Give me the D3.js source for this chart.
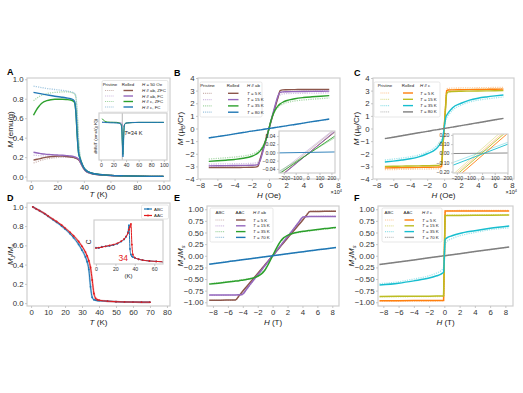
<!DOCTYPE html>
<html>
<head>
<meta charset="utf-8">
<script src="https://cdn.jsdelivr.net/npm/d3@7"></script>
<style>
  body { margin: 0; background: #fff; }
  text { font-family: "Liberation Sans", Arial, sans-serif; }
</style>
</head>
<body>
<svg id="fig" width="523" height="393"></svg>
<script>
// ---- panel A : M vs T at H = 50 Oe ----
var tempA = [2,4,6,8,10,12,15,18,21,24,27,30,32,33,34,35,36,37,38,40,42,45,50,55,60,70,80,90,100];
var rolledCFc   = [0.865,0.86,0.855,0.85,0.845,0.84,0.833,0.826,0.82,0.815,0.808,0.8,0.79,0.77,0.66,0.42,0.24,0.19,0.15,0.09,0.06,0.04,0.025,0.018,0.013,0.008,0.005,0.003,0.002];
var rolledCZfc  = [0.63,0.68,0.72,0.75,0.77,0.78,0.79,0.795,0.795,0.795,0.792,0.787,0.775,0.76,0.65,0.41,0.24,0.19,0.15,0.09,0.06,0.04,0.025,0.018,0.013,0.008,0.005,0.003,0.002];
var rolledAbFc  = [0.25,0.245,0.24,0.235,0.232,0.229,0.226,0.223,0.221,0.219,0.216,0.212,0.207,0.203,0.198,0.19,0.18,0.16,0.13,0.08,0.05,0.035,0.022,0.016,0.012,0.008,0.005,0.003,0.002];
var rolledAbZfc = [0.17,0.176,0.182,0.189,0.195,0.2,0.205,0.209,0.211,0.21,0.207,0.202,0.197,0.193,0.188,0.182,0.172,0.155,0.13,0.08,0.05,0.035,0.022,0.016,0.012,0.008,0.005,0.003,0.002];
var pristineCFc   = [0.93,0.925,0.92,0.915,0.91,0.905,0.9,0.895,0.89,0.885,0.88,0.872,0.863,0.855,0.82,0.65,0.38,0.22,0.16,0.09,0.06,0.04,0.025,0.018,0.013,0.008,0.005,0.003,0.002];
var pristineCZfc  = [0.78,0.8,0.82,0.835,0.845,0.852,0.86,0.865,0.868,0.87,0.87,0.866,0.857,0.848,0.81,0.64,0.37,0.22,0.16,0.09,0.06,0.04,0.025,0.018,0.013,0.008,0.005,0.003,0.002];
var pristineAbFc  = [0.22,0.218,0.216,0.214,0.212,0.21,0.208,0.206,0.205,0.204,0.203,0.201,0.199,0.197,0.194,0.19,0.18,0.16,0.13,0.08,0.05,0.035,0.022,0.016,0.012,0.008,0.005,0.003,0.002];
var pristineAbZfc = [0.14,0.15,0.16,0.168,0.176,0.182,0.189,0.194,0.198,0.2,0.2,0.198,0.195,0.192,0.188,0.182,0.172,0.155,0.13,0.08,0.05,0.035,0.022,0.016,0.012,0.008,0.005,0.003,0.002];
var ticksAx = [0,20,40,60,80,100];
var ticksAy = [0,0.2,0.4,0.6,0.8,1.0];

// inset A : dM/dT
var tempInsetA = [2,4,6,8,10,15,20,25,30,32,33,34,35,36,37,38,40,45,50,60,70,80,90,100];
var dmdtCFc   = [0,0,0,-0.005,-0.005,-0.01,-0.01,-0.015,-0.03,-0.06,-0.15,-0.55,-0.92,-0.45,-0.12,-0.04,-0.02,-0.01,-0.005,0,0,0,0,0];
var dmdtCZfc  = [0.1,0.06,0.035,0.02,0.01,0.005,0.003,0,-0.02,-0.05,-0.13,-0.5,-0.85,-0.42,-0.11,-0.04,-0.02,-0.01,-0.005,0,0,0,0,0];
var dmdtPrisC = [0.02,0.01,0.005,0,0,-0.005,-0.01,-0.015,-0.02,-0.03,-0.06,-0.2,-0.55,-0.6,-0.2,-0.05,-0.02,-0.01,-0.005,0,0,0,0,0];
var dmdtAbFc  = [0,0,0,0,0,0,0,0,-0.005,-0.01,-0.02,-0.05,-0.1,-0.12,-0.08,-0.04,-0.02,-0.01,0,0,0,0,0,0];
var tcInset = 34;
var ticksInsetAx = [0,20,40,60,80,100];

// ---- panel B : M vs H, H // ab ----
var fieldB = [-7,-6,-5,-4,-3,-2,-1.6,-1.3,-1,-0.7,-0.4,-0.2,0,0.2,0.4,0.7,1,1.3,1.6,2,3,4,5,6,7];
var rolledB5K  = [-3.1,-3.1,-3.09,-3.09,-3.08,-3.07,-3.06,-3.0,-2.35,-1.65,-0.95,-0.48,0,0.48,0.95,1.65,2.35,3.0,3.06,3.07,3.08,3.09,3.09,3.1,3.1];
var rolledB15K = [-2.96,-2.95,-2.94,-2.93,-2.92,-2.91,-2.9,-2.86,-2.5,-1.8,-1.05,-0.53,0,0.53,1.05,1.8,2.5,2.86,2.9,2.91,2.92,2.93,2.94,2.95,2.96];
var rolledB35K = [-2.6,-2.56,-2.51,-2.45,-2.36,-2.2,-2.08,-1.95,-1.75,-1.45,-0.98,-0.55,0,0.55,0.98,1.45,1.75,1.95,2.08,2.2,2.36,2.45,2.51,2.56,2.6];
var rolledB80K = [-0.75,-0.64,-0.54,-0.43,-0.32,-0.21,-0.17,-0.14,-0.11,-0.075,-0.043,-0.021,0,0.021,0.043,0.075,0.11,0.14,0.17,0.21,0.32,0.43,0.54,0.64,0.75];
var pristineB5K  = [-2.98,-2.97,-2.96,-2.95,-2.94,-2.92,-2.89,-2.8,-2.4,-1.7,-0.98,-0.5,0,0.5,0.98,1.7,2.4,2.8,2.89,2.92,2.94,2.95,2.96,2.97,2.98];
var pristineB15K = [-2.82,-2.81,-2.8,-2.79,-2.78,-2.76,-2.73,-2.66,-2.35,-1.7,-1.0,-0.5,0,0.5,1.0,1.7,2.35,2.66,2.73,2.76,2.78,2.79,2.8,2.81,2.82];
var pristineB35K = [-2.42,-2.37,-2.32,-2.26,-2.18,-2.04,-1.93,-1.82,-1.65,-1.38,-0.95,-0.53,0,0.53,0.95,1.38,1.65,1.82,1.93,2.04,2.18,2.26,2.32,2.37,2.42];
var pristineB80K = [-0.73,-0.63,-0.53,-0.42,-0.31,-0.21,-0.17,-0.14,-0.1,-0.073,-0.042,-0.021,0,0.021,0.042,0.073,0.1,0.14,0.17,0.21,0.31,0.42,0.53,0.63,0.73];
var ticksHx = [-8,-6,-4,-2,0,2,4,6,8];
var ticksBy = [-4,-3,-2,-1,0,1,2,3,4];

// inset B (Oe)
var fieldInsetB = [-240,230];
var insetB5K  = [-0.06,0.05];
var insetB15K = [-0.062,0.052];
var insetB35K = [-0.052,0.04];
var insetB80K = [-0.0012,0.0011];
var insetPrisB5K  = [-0.055,0.056];
var insetPrisB15K = [-0.05,0.058];
var insetPrisB35K = [-0.046,0.036];
var ticksInsetHx = [-200,-100,0,100,200];
var ticksInsetBy = [-0.04,-0.02,0,0.02,0.04];

// ---- panel C : M vs H, H // c ----
var fieldC = [-7,-6,-5,-4,-3,-2,-1,-0.5,-0.3,-0.2,-0.1,0,0.1,0.2,0.3,0.5,1,2,3,4,5,6,7];
var rolledC5K  = [-3.12,-3.11,-3.1,-3.09,-3.08,-3.07,-3.06,-3.05,-3.0,-2.1,-1.05,0,1.05,2.1,3.0,3.05,3.06,3.07,3.08,3.09,3.1,3.11,3.12];
var rolledC15K = [-3.0,-2.99,-2.98,-2.97,-2.96,-2.95,-2.93,-2.9,-2.75,-1.9,-0.95,0,0.95,1.9,2.75,2.9,2.93,2.95,2.96,2.97,2.98,2.99,3.0];
var rolledC35K = [-2.65,-2.58,-2.5,-2.4,-2.25,-2.0,-1.65,-1.25,-1.05,-0.9,-0.5,0,0.5,0.9,1.05,1.25,1.65,2.0,2.25,2.4,2.5,2.58,2.65];
var rolledC80K = [-0.8,-0.69,-0.57,-0.46,-0.34,-0.23,-0.11,-0.06,-0.034,-0.023,-0.011,0,0.011,0.023,0.034,0.06,0.11,0.23,0.34,0.46,0.57,0.69,0.8];
var pristineC5K  = [-3.26,-3.25,-3.24,-3.23,-3.22,-3.21,-3.2,-3.18,-3.1,-2.2,-1.1,0,1.1,2.2,3.1,3.18,3.2,3.21,3.22,3.23,3.24,3.25,3.26];
var pristineC15K = [-3.15,-3.14,-3.13,-3.12,-3.11,-3.1,-3.08,-3.05,-2.9,-2.0,-1.0,0,1.0,2.0,2.9,3.05,3.08,3.1,3.11,3.12,3.13,3.14,3.15];
var pristineC35K = [-2.5,-2.42,-2.34,-2.24,-2.1,-1.85,-1.45,-1.05,-0.85,-0.7,-0.38,0,0.38,0.7,0.85,1.05,1.45,1.85,2.1,2.24,2.34,2.42,2.5];
var pristineC80K = [-0.79,-0.68,-0.56,-0.45,-0.34,-0.22,-0.11,-0.056,-0.034,-0.022,-0.011,0,0.011,0.022,0.034,0.056,0.11,0.22,0.34,0.45,0.56,0.68,0.79];

// inset C (Oe)
var fieldInsetC = [-230,205];
var insetC5K  = [-0.3,0.22];
var insetC15K = [-0.27,0.25];
var insetC35K = [-0.13,0.1];
var insetC80K = [-0.003,0.003];
var insetPrisC5K  = [-0.25,0.27];
var insetPrisC15K = [-0.23,0.3];
var insetPrisC35K = [-0.1,0.12];
var ticksInsetCy = [-0.2,-0.1,0,0.1,0.2];

// ---- panel D : simulated M vs T ----
var tempD = [1,3,5,8,10,13,15,18,20,23,25,28,30,32,33,34,35,36,37,38,39,40,45,50,55,60,65,70];
var magAAC = [1.0,0.98,0.96,0.93,0.905,0.87,0.848,0.81,0.78,0.735,0.7,0.64,0.59,0.53,0.49,0.44,0.37,0.24,0.1,0.05,0.035,0.03,0.02,0.015,0.012,0.011,0.01,0.01];
var magABC = [1.0,0.98,0.96,0.928,0.902,0.865,0.84,0.8,0.77,0.72,0.68,0.61,0.55,0.48,0.43,0.35,0.17,0.06,0.035,0.03,0.027,0.025,0.02,0.015,0.012,0.011,0.01,0.01];
var ticksDx = [0,10,20,30,40,50,60,70,80];
var ticksDy = [0,0.2,0.4,0.6,0.8,1.0];

// inset D : specific heat
var tempInsetD = [0,3,6,10,14,18,22,26,29,31,33,34,35,36,37,38,40,44,48,55,62,69];
var heatABC = [0.38,0.37,0.4,0.41,0.42,0.44,0.47,0.52,0.57,0.63,0.74,0.9,0.35,0.22,0.18,0.16,0.14,0.11,0.09,0.07,0.06,0.05];
var heatAAC = [0.37,0.38,0.39,0.41,0.43,0.45,0.48,0.53,0.58,0.64,0.72,0.8,0.86,0.93,0.45,0.22,0.15,0.11,0.09,0.07,0.06,0.05];
var ticksInsetDx = [0,20,40,60];

// ---- panel E : simulated M vs H, H // ab ----
var fieldE = [-8.5,-7,-6,-5,-4.5,-4.1,-3.5,-3,-2,-1.5,-1,-0.5,0,0.5,1,1.5,2,3,3.5,4.1,4.5,5,6,7,8.5];
var aacE5K  = [-0.955,-0.955,-0.953,-0.95,-0.86,-0.78,-0.665,-0.57,-0.38,-0.285,-0.19,-0.095,0,0.095,0.19,0.285,0.38,0.57,0.665,0.78,0.86,0.95,0.953,0.955,0.955];
var aacE15K = [-0.845,-0.845,-0.843,-0.842,-0.84,-0.835,-0.72,-0.615,-0.41,-0.31,-0.205,-0.1,0,0.1,0.205,0.31,0.41,0.615,0.72,0.835,0.84,0.842,0.843,0.845,0.845];
var aacE35K = [-0.61,-0.585,-0.565,-0.545,-0.535,-0.525,-0.51,-0.495,-0.44,-0.39,-0.3,-0.16,0,0.16,0.3,0.39,0.44,0.495,0.51,0.525,0.535,0.545,0.565,0.585,0.61];
var aacE70K = [-0.18,-0.148,-0.127,-0.106,-0.095,-0.087,-0.074,-0.064,-0.042,-0.032,-0.021,-0.011,0,0.011,0.021,0.032,0.042,0.064,0.074,0.087,0.095,0.106,0.127,0.148,0.18];
var abcE5K  = [-0.96,-0.96,-0.958,-0.955,-0.87,-0.79,-0.675,-0.58,-0.385,-0.29,-0.195,-0.097,0,0.097,0.195,0.29,0.385,0.58,0.675,0.79,0.87,0.955,0.958,0.96,0.96];
var abcE15K = [-0.85,-0.85,-0.848,-0.846,-0.845,-0.84,-0.73,-0.625,-0.42,-0.315,-0.21,-0.105,0,0.105,0.21,0.315,0.42,0.625,0.73,0.84,0.845,0.846,0.848,0.85,0.85];
var abcE35K = [-0.6,-0.575,-0.555,-0.535,-0.525,-0.515,-0.5,-0.485,-0.43,-0.37,-0.28,-0.15,0,0.15,0.28,0.37,0.43,0.485,0.5,0.515,0.525,0.535,0.555,0.575,0.6];
var abcE70K = [-0.178,-0.146,-0.125,-0.105,-0.094,-0.086,-0.073,-0.063,-0.042,-0.031,-0.021,-0.01,0,0.01,0.021,0.031,0.042,0.063,0.073,0.086,0.094,0.105,0.125,0.146,0.178];
var ticksEy = [-1,-0.75,-0.5,-0.25,0,0.25,0.5,0.75,1];

// ---- panel F : simulated M vs H, H // c ----
var fieldF = [-8.5,-6,-4,-2,-1,-0.5,-0.3,-0.1,0,0.1,0.3,0.5,1,2,4,6,8.5];
var aacF5K  = [-0.965,-0.965,-0.964,-0.963,-0.962,-0.961,-0.96,-0.96,0,0.96,0.96,0.961,0.962,0.963,0.964,0.965,0.965];
var aacF15K = [-0.875,-0.872,-0.87,-0.868,-0.866,-0.865,-0.864,-0.863,0,0.863,0.864,0.865,0.866,0.868,0.87,0.872,0.875];
var aacF35K = [-0.63,-0.59,-0.54,-0.48,-0.43,-0.4,-0.38,-0.35,0,0.35,0.38,0.4,0.43,0.48,0.54,0.59,0.64];
var aacF70K = [-0.19,-0.134,-0.09,-0.045,-0.022,-0.011,-0.007,-0.002,0,0.002,0.007,0.011,0.022,0.045,0.09,0.134,0.19];
var abcF5K  = [-0.975,-0.975,-0.974,-0.973,-0.972,-0.971,-0.97,-0.97,0,0.97,0.97,0.971,0.972,0.973,0.974,0.975,0.975];
var abcF15K = [-0.885,-0.882,-0.88,-0.878,-0.876,-0.875,-0.874,-0.873,0,0.873,0.874,0.875,0.876,0.878,0.88,0.882,0.885];
var abcF35K = [-0.6,-0.56,-0.5,-0.43,-0.37,-0.33,-0.3,-0.25,0,0.25,0.3,0.33,0.37,0.43,0.5,0.56,0.6];
var abcF70K = [-0.188,-0.132,-0.089,-0.044,-0.022,-0.011,-0.007,-0.002,0,0.002,0.007,0.011,0.022,0.044,0.089,0.132,0.188];

// colours (matplotlib tab10)
var cBlue = '#1f77b4', cOrange = '#ff7f0e', cGreen = '#2ca02c', cPurple = '#9467bd',
    cBrown = '#8c564b', cGray = '#7f7f7f', cOlive = '#bcbd22', cCyan = '#17becf', cRed = '#e31a1c';

var svg = d3.select('#fig');
svg.append('rect').attr('width', 523).attr('height', 393).attr('fill', '#fff');

var clipCount = 0;

// text with italic / sub / sup parts
function rich(t, parts, fs) {
  var shift = 0;
  parts.forEach(function (p) {
    var s = t.append('tspan').text(p[0]);
    var target = 0;
    if (p[1] === 'i') s.attr('font-style', 'italic');
    if (p[1] === 'sub' || p[1] === 'isub') { target = 0.28 * fs; s.attr('font-size', fs * 0.7); }
    if (p[1] === 'sup') { target = -0.42 * fs; s.attr('font-size', fs * 0.7); }
    if (p[1] === 'isub') s.attr('font-style', 'italic');
    if (target !== shift) { s.attr('dy', target - shift); shift = target; }
  });
}

function makeAxes(box, xDomain, yDomain, xTicks, yTicks, xFmt, yFmt, fs) {
  var g = svg.append('g');
  var x = d3.scaleLinear().domain(xDomain).range([box[0], box[2]]);
  var y = d3.scaleLinear().domain(yDomain).range([box[3], box[1]]);
  var id = 'clip' + (clipCount++);
  svg.append('clipPath').attr('id', id).append('rect')
    .attr('x', box[0]).attr('y', box[1]).attr('width', box[2] - box[0]).attr('height', box[3] - box[1]);

  g.append('rect')
    .attr('x', box[0]).attr('y', box[1]).attr('width', box[2] - box[0]).attr('height', box[3] - box[1])
    .attr('fill', '#fff');
  var plot = g.append('g').attr('clip-path', 'url(#' + id + ')');
  g.append('rect')
    .attr('x', box[0]).attr('y', box[1]).attr('width', box[2] - box[0]).attr('height', box[3] - box[1])
    .attr('fill', 'none').attr('stroke', '#cfcfcf').attr('stroke-width', 1.2);

  var xg = g.append('g').attr('transform', 'translate(0,' + box[3] + ')')
    .call(d3.axisBottom(x).tickValues(xTicks).tickFormat(xFmt).tickSize(2).tickPadding(1.5));
  styleAxis(xg, fs);
  if (yTicks) {
    var yg = g.append('g').attr('transform', 'translate(' + box[0] + ',0)')
      .call(d3.axisLeft(y).tickValues(yTicks).tickFormat(yFmt).tickSize(2).tickPadding(1.5));
    styleAxis(yg, fs);
  }
  return { g: g, x: x, y: y, plot: plot, box: box };
}

function styleAxis(sel, fs) {
  sel.select('.domain').remove();
  sel.selectAll('.tick line').attr('stroke', '#bbb').attr('stroke-width', 0.8);
  sel.selectAll('.tick text').attr('font-size', fs).attr('fill', '#333')
    .attr('font-family', '"Liberation Sans", Arial, sans-serif');
}

function drawSeries(ax, xs, ys, color, opts) {
  opts = opts || {};
  var line = d3.line()
    .x(function (d) { return ax.x(d[0]); })
    .y(function (d) { return ax.y(d[1]); })
    .curve(opts.curve || d3.curveMonotoneX);
  return ax.plot.append('path')
    .datum(d3.zip(xs, ys))
    .attr('d', line)
    .attr('fill', 'none')
    .attr('stroke', color)
    .attr('stroke-width', opts.w || 1.4)
    .attr('stroke-dasharray', opts.dash || null)
    .attr('stroke-opacity', opts.op || 1);
}

function pale(ax, xs, ys, color) {
  drawSeries(ax, xs, ys, color, { w: 1.3, dash: '1.2,1.1', op: 0.4 });
}

function drawDots(ax, xs, ys, color) {
  ax.plot.selectAll(null).data(d3.zip(xs, ys)).enter().append('circle')
    .attr('cx', function (d) { return ax.x(d[0]); })
    .attr('cy', function (d) { return ax.y(d[1]); })
    .attr('r', 0.9).attr('fill', color);
}

function label(x, y, parts, fs, opts) {
  opts = opts || {};
  var t = svg.append('text')
    .attr('x', x).attr('y', y)
    .attr('font-size', fs)
    .attr('fill', opts.fill || '#222')
    .attr('font-weight', opts.bold ? 'bold' : null)
    .attr('text-anchor', opts.anchor || 'middle');
  if (opts.rotate) t.attr('transform', 'rotate(-90,' + x + ',' + y + ')');
  rich(t, parts, fs);
  return t;
}

function legendTable(spec) {
  var g = svg.append('g');
  g.append('rect')
    .attr('x', spec.box[0]).attr('y', spec.box[1])
    .attr('width', spec.box[2] - spec.box[0]).attr('height', spec.box[3] - spec.box[1])
    .attr('rx', 1.5).attr('fill', '#fff').attr('fill-opacity', 0.85)
    .attr('stroke', '#d6d6d6').attr('stroke-width', 0.6);
  spec.heads.forEach(function (h) {
    var t = g.append('text').attr('x', h[0]).attr('y', spec.headY)
      .attr('text-anchor', h[1]).attr('font-size', spec.fs).attr('fill', '#222');
    rich(t, h[2], spec.fs);
  });
  spec.rows.forEach(function (r, i) {
    var yy = spec.rowY[i];
    g.append('line').attr('x1', spec.segP[0]).attr('x2', spec.segP[1]).attr('y1', yy).attr('y2', yy)
      .attr('stroke', r[1]).attr('stroke-width', 1.2).attr('stroke-dasharray', '1,0.9').attr('stroke-opacity', 0.45);
    g.append('line').attr('x1', spec.segR[0]).attr('x2', spec.segR[1]).attr('y1', yy).attr('y2', yy)
      .attr('stroke', r[1]).attr('stroke-width', 1.4);
    var t = g.append('text').attr('x', spec.labelX).attr('y', yy + spec.fs * 0.35)
      .attr('font-size', spec.fs).attr('fill', '#222');
    rich(t, r[0], spec.fs);
  });
}

var fmtInt = d3.format('d');
var fmt1 = d3.format('.1f');
var fmt2 = d3.format('.2f');
var tickFs = 7.8, axisFs = 8, insetFs = 5.2, legFs = 4.4;

// ================= A =================
var axA = makeAxes([27, 78, 170, 181], [-2.9, 104.9], [-0.045, 1.013], ticksAx, ticksAy, fmtInt, fmt1, tickFs);
pale(axA, tempA, pristineAbZfc, cBrown);
pale(axA, tempA, pristineAbFc, cPurple);
pale(axA, tempA, pristineCZfc, cGreen);
pale(axA, tempA, pristineCFc, cBlue);
drawSeries(axA, tempA, rolledAbZfc, cBrown);
drawSeries(axA, tempA, rolledAbFc, cPurple);
drawSeries(axA, tempA, rolledCZfc, cGreen);
drawSeries(axA, tempA, rolledCFc, cBlue);
label(13, 129.5, [['M', 'i'], [' (emu/g)']], axisFs, { rotate: true });
label(98.5, 197, [['T', 'i'], [' (K)']], axisFs);
label(7, 74.5, [['A']], 9, { bold: true, anchor: 'start', fill: '#000' });

legendTable({
  box: [102, 80.5, 168, 112], fs: legFs, headY: 85.5,
  heads: [[110, 'middle', [['Pristine']]], [128, 'middle', [['Rolled']]], [142, 'start', [['H', 'i'], [' = 50 Oe']]]],
  rowY: [90.5, 96, 101.5, 107], segP: [105, 114], segR: [123.5, 133], labelX: 142,
  rows: [
    [[['H', 'i'], [' // ab, ZFC']], cBrown],
    [[['H', 'i'], [' // ab, FC']], cPurple],
    [[['H', 'i'], [' // c, ZFC']], cGreen],
    [[['H', 'i'], [' // c, FC']], cBlue]
  ]
});

// inset A
var axAi = makeAxes([99, 113, 167, 160], [-3, 105], [-1, 0.25], ticksInsetAx, null, fmtInt, null, insetFs);
axAi.plot.append('line')
  .attr('x1', axAi.x(tcInset)).attr('x2', axAi.x(tcInset))
  .attr('y1', axAi.box[1]).attr('y2', axAi.box[3])
  .attr('stroke', '#888').attr('stroke-width', 0.6);
drawSeries(axAi, tempInsetA, dmdtPrisC, cBlue, { w: 1, op: 0.35 });
drawSeries(axAi, tempInsetA, dmdtAbFc, cPurple, { w: 1, op: 0.6 });
drawSeries(axAi, tempInsetA, dmdtCZfc, cGreen, { w: 1 });
drawSeries(axAi, tempInsetA, dmdtCFc, cBlue, { w: 1 });
label(axAi.x(37), axAi.y(-0.33), [['T', 'i'], ['=34 K']], 5.6, { anchor: 'start' });
label(96.5, 136.5, [['dM/dT (emu/(g K))']], 4.3, { rotate: true });

// ================= B =================
var axB = makeAxes([198, 78, 340, 179], [-8.25, 8.25], [-4, 4], ticksHx, ticksBy, fmtInt, fmtInt, tickFs);
pale(axB, fieldB, pristineB5K, cBrown);
pale(axB, fieldB, pristineB15K, cPurple);
pale(axB, fieldB, pristineB35K, cGreen);
pale(axB, fieldB, pristineB80K, cBlue);
drawSeries(axB, fieldB, rolledB5K, cBrown);
drawSeries(axB, fieldB, rolledB15K, cPurple);
drawSeries(axB, fieldB, rolledB35K, cGreen);
drawSeries(axB, fieldB, rolledB80K, cBlue);
label(183, 128.5, [['M', 'i'], [' (\u03bc'], ['B', 'sub'], ['/Cr)']], axisFs, { rotate: true });
label(269, 197.5, [['H', 'i'], [' (Oe)']], axisFs);
label(342, 194, [['\u00d710'], ['4', 'sup']], 5.5, { anchor: 'end' });
label(174, 76, [['B']], 9, { bold: true, anchor: 'start', fill: '#000' });

legendTable({
  box: [200, 82, 262, 117], fs: legFs, headY: 87,
  heads: [[207.5, 'middle', [['Pristine']]], [233, 'middle', [['Rolled']]], [247, 'start', [['H', 'i'], [' // ab']]]],
  rowY: [93.3, 99.6, 105.9, 112.2], segP: [203, 212], segR: [228, 238.5], labelX: 247,
  rows: [
    [[['T', 'i'], [' = 5 K']], cBrown],
    [[['T', 'i'], [' = 15 K']], cPurple],
    [[['T', 'i'], [' = 35 K']], cGreen],
    [[['T', 'i'], [' = 80 K']], cBlue]
  ]
});

var axBi = makeAxes([279, 131, 335, 173], [-240, 230], [-0.05, 0.052], ticksInsetHx, ticksInsetBy, fmtInt, fmt2, insetFs);
drawSeries(axBi, fieldInsetB, insetPrisB5K, cBrown, { w: 0.9, op: 0.4 });
drawSeries(axBi, fieldInsetB, insetPrisB15K, cPurple, { w: 0.9, op: 0.4 });
drawSeries(axBi, fieldInsetB, insetPrisB35K, cGreen, { w: 0.9, op: 0.4 });
drawSeries(axBi, fieldInsetB, insetB5K, cBrown, { w: 0.9 });
drawSeries(axBi, fieldInsetB, insetB15K, cPurple, { w: 0.9 });
drawSeries(axBi, fieldInsetB, insetB35K, cGreen, { w: 0.9 });
drawSeries(axBi, fieldInsetB, insetB80K, cBlue, { w: 0.9 });

// ================= C =================
var axC = makeAxes([373, 78, 514, 179], [-8.4, 8.25], [-4, 4], ticksHx, ticksBy, fmtInt, fmtInt, tickFs);
pale(axC, fieldC, pristineC5K, cOrange);
pale(axC, fieldC, pristineC15K, cOlive);
pale(axC, fieldC, pristineC35K, cCyan);
pale(axC, fieldC, pristineC80K, cGray);
drawSeries(axC, fieldC, rolledC5K, cOrange);
drawSeries(axC, fieldC, rolledC15K, cOlive);
drawSeries(axC, fieldC, rolledC35K, cCyan);
drawSeries(axC, fieldC, rolledC80K, cGray);
label(359, 128.5, [['M', 'i'], [' (\u03bc'], ['B', 'sub'], ['/Cr)']], axisFs, { rotate: true });
label(443.5, 197.5, [['H', 'i'], [' (Oe)']], axisFs);
label(517, 194, [['\u00d710'], ['4', 'sup']], 5.5, { anchor: 'end' });
label(354, 76, [['C']], 9, { bold: true, anchor: 'start', fill: '#000' });

legendTable({
  box: [374, 82, 440, 117], fs: legFs, headY: 87,
  heads: [[385, 'middle', [['Pristine']]], [408, 'middle', [['Rolled']]], [420, 'start', [['H', 'i'], [' // c']]]],
  rowY: [93, 99.3, 105.6, 111.9], segP: [380.5, 389.5], segR: [403, 413], labelX: 420,
  rows: [
    [[['T', 'i'], [' = 5 K']], cOrange],
    [[['T', 'i'], [' = 15 K']], cOlive],
    [[['T', 'i'], [' = 35 K']], cCyan],
    [[['T', 'i'], [' = 80 K']], cGray]
  ]
});

var axCi = makeAxes([453, 134, 508, 173], [-230, 205], [-0.215, 0.21], ticksInsetHx, ticksInsetCy, fmtInt, fmt2, insetFs);
drawSeries(axCi, fieldInsetC, insetC80K, cGray, { w: 0.9 });
drawSeries(axCi, fieldInsetC, insetPrisC5K, cOrange, { w: 0.9, op: 0.4 });
drawSeries(axCi, fieldInsetC, insetPrisC15K, cOlive, { w: 0.9, op: 0.4 });
drawSeries(axCi, fieldInsetC, insetPrisC35K, cCyan, { w: 0.9, op: 0.4 });
drawSeries(axCi, fieldInsetC, insetC5K, cOrange, { w: 0.9 });
drawSeries(axCi, fieldInsetC, insetC15K, cOlive, { w: 0.9 });
drawSeries(axCi, fieldInsetC, insetC35K, cCyan, { w: 0.9 });

// ================= D =================
var axD = makeAxes([27, 203, 170, 306], [-2.4, 81.8], [-0.03, 1.04], ticksDx, ticksDy, fmtInt, fmt1, tickFs);
drawSeries(axD, tempD, magABC, cBlue, { w: 2, op: 0.35 });
drawSeries(axD, tempD, magAAC, cRed, { w: 2, op: 0.35 });
drawSeries(axD, tempD, magABC, cBlue, { w: 1 });
drawSeries(axD, tempD, magAAC, cRed, { w: 1 });
drawDots(axD, tempD, magABC, cBlue);
drawDots(axD, tempD, magAAC, cRed);
label(13, 254.5, [['M', 'i'], ['J', 'isub'], ['/'], ['M', 'i'], ['s', 'isub']], axisFs, { rotate: true });
label(98.5, 324.5, [['T', 'i'], [' (K)']], axisFs);
label(7, 200.5, [['D']], 9, { bold: true, anchor: 'start', fill: '#000' });

var legD = svg.append('g');
legD.append('rect').attr('x', 141.5).attr('y', 205).attr('width', 27).attr('height', 14)
  .attr('rx', 1.5).attr('fill', '#fff').attr('stroke', '#d6d6d6').attr('stroke-width', 0.6);
[['ABC', cBlue, 209], ['AAC', cRed, 215.5]].forEach(function (r) {
  legD.append('line').attr('x1', 144).attr('x2', 152).attr('y1', r[2]).attr('y2', r[2])
    .attr('stroke', r[1]).attr('stroke-width', 1.2);
  legD.append('circle').attr('cx', 148).attr('cy', r[2]).attr('r', 0.9).attr('fill', r[1]);
  legD.append('text').attr('x', 154).attr('y', r[2] + 1.5).attr('font-size', legFs).attr('fill', '#222').text(r[0]);
});

var axDi = makeAxes([94, 220, 163, 264], [-2, 69], [0, 1.02], ticksInsetDx, null, fmtInt, null, insetFs);
drawSeries(axDi, tempInsetD, heatABC, cBlue, { w: 1 });
drawSeries(axDi, tempInsetD, heatAAC, cRed, { w: 1 });
drawDots(axDi, tempInsetD, heatABC, cBlue);
drawDots(axDi, tempInsetD, heatAAC, cRed);
label(91, 242, [['C']], 6.5, { rotate: true });
label(128.5, 277.5, [['(K)']], 6);
label(axDi.x(tcInset) - 1, axDi.y(0.08), [['34']], 8.5, { anchor: 'end', fill: cRed });

// ================= E =================
var axE = makeAxes([207, 206, 339, 306], [-8.8, 8.9], [-1.08, 1.07], ticksHx, ticksEy, fmtInt, fmt2, tickFs);
pale(axE, fieldE, abcE5K, cBrown);
pale(axE, fieldE, abcE15K, cPurple);
pale(axE, fieldE, abcE35K, cGreen);
pale(axE, fieldE, abcE70K, cBlue);
drawSeries(axE, fieldE, aacE5K, cBrown, { w: 1.5 });
drawSeries(axE, fieldE, aacE15K, cPurple, { w: 1.5 });
drawSeries(axE, fieldE, aacE35K, cGreen, { w: 1.5 });
drawSeries(axE, fieldE, aacE70K, cBlue, { w: 1.5 });
label(183, 256, [['M', 'i'], ['J', 'isub'], ['/'], ['M', 'i'], ['s', 'isub']], axisFs, { rotate: true });
label(273, 324.5, [['H', 'i'], [' (T)']], axisFs);
label(174, 200.5, [['E']], 9, { bold: true, anchor: 'start', fill: '#000' });

legendTable({
  box: [210, 208, 273, 242], fs: legFs, headY: 213.5,
  heads: [[220, 'middle', [['ABC']]], [240, 'middle', [['AAC']]], [253, 'start', [['H', 'i'], [' // ab']]]],
  rowY: [220, 225.8, 231.6, 237.4], segP: [215.5, 225], segR: [236, 245.5], labelX: 253,
  rows: [
    [[['T', 'i'], [' = 5 K']], cBrown],
    [[['T', 'i'], [' = 15 K']], cPurple],
    [[['T', 'i'], [' = 35 K']], cGreen],
    [[['T', 'i'], [' = 70 K']], cBlue]
  ]
});

// ================= F =================
var axF = makeAxes([378, 206, 513, 306], [-8.7, 9.0], [-1.08, 1.07], ticksHx, ticksEy, fmtInt, fmt2, tickFs);
pale(axF, fieldF, abcF5K, cOrange);
pale(axF, fieldF, abcF15K, cOlive);
pale(axF, fieldF, abcF35K, cCyan);
pale(axF, fieldF, abcF70K, cGray);
drawSeries(axF, fieldF, aacF70K, cGray, { w: 1.5, curve: d3.curveLinear });
drawSeries(axF, fieldF, aacF5K, cOrange, { w: 1.5, curve: d3.curveLinear });
drawSeries(axF, fieldF, aacF15K, cOlive, { w: 1.5, curve: d3.curveLinear });
drawSeries(axF, fieldF, aacF35K, cCyan, { w: 1.5 });
label(354, 256, [['M', 'i'], ['J', 'isub'], ['/'], ['M', 'i'], ['s', 'isub']], axisFs, { rotate: true });
label(445.5, 324.5, [['H', 'i'], [' (T)']], axisFs);
label(354, 200.5, [['F']], 9, { bold: true, anchor: 'start', fill: '#000' });

legendTable({
  box: [382, 208, 442, 242], fs: legFs, headY: 213.5,
  heads: [[389, 'middle', [['ABC']]], [408, 'middle', [['AAC']]], [422, 'start', [['H', 'i'], [' // c']]]],
  rowY: [220, 225.8, 231.6, 237.4], segP: [385, 394.5], segR: [404.5, 414], labelX: 422,
  rows: [
    [[['T', 'i'], [' = 5 K']], cOrange],
    [[['T', 'i'], [' = 15 K']], cOlive],
    [[['T', 'i'], [' = 35 K']], cCyan],
    [[['T', 'i'], [' = 70 K']], cGray]
  ]
});
</script>
</body>
</html>
